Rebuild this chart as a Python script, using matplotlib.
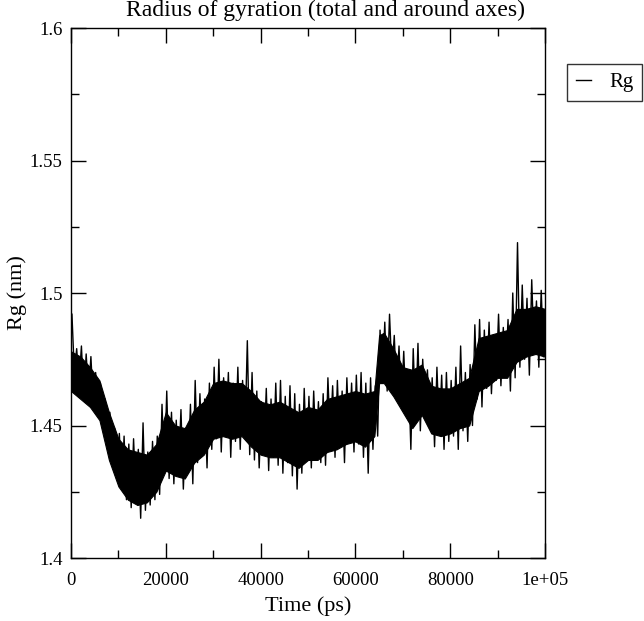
import matplotlib
matplotlib.use("Agg")
import matplotlib.pyplot as plt
from matplotlib.ticker import MultipleLocator, FixedLocator, FixedFormatter

plt.rcParams['font.family'] = ['Liberation Serif', 'DejaVu Serif']

# Extremes of Rg(t) per 1000 ps bin
time_ps = list(range(0, 100000, 1000))
rg_high = [1.492, 1.479, 1.480, 1.477, 1.476, 1.470, 1.466, 1.460, 1.455, 1.449,
           1.447, 1.446, 1.443, 1.445, 1.441, 1.451, 1.440, 1.444, 1.446, 1.458,
           1.463, 1.455, 1.452, 1.456, 1.449, 1.458, 1.467, 1.462, 1.460, 1.466,
           1.472, 1.475, 1.468, 1.470, 1.466, 1.472, 1.467, 1.482, 1.470, 1.463,
           1.459, 1.464, 1.460, 1.466, 1.467, 1.461, 1.465, 1.462, 1.458, 1.464,
           1.461, 1.463, 1.459, 1.462, 1.468, 1.465, 1.467, 1.463, 1.468, 1.466,
           1.469, 1.470, 1.466, 1.468, 1.465, 1.486, 1.489, 1.492, 1.484, 1.480,
           1.478, 1.470, 1.479, 1.481, 1.475, 1.471, 1.468, 1.472, 1.469, 1.470,
           1.467, 1.472, 1.480, 1.470, 1.473, 1.488, 1.490, 1.486, 1.489, 1.484,
           1.492, 1.487, 1.490, 1.500, 1.519, 1.503, 1.498, 1.505, 1.497, 1.501]
rg_low = [1.470, 1.466, 1.460, 1.462, 1.458, 1.455, 1.452, 1.446, 1.436, 1.430,
          1.426, 1.422, 1.419, 1.423, 1.415, 1.418, 1.420, 1.422, 1.424, 1.432,
          1.430, 1.428, 1.434, 1.426, 1.432, 1.428, 1.436, 1.440, 1.434, 1.441,
          1.445, 1.440, 1.447, 1.438, 1.444, 1.441, 1.446, 1.439, 1.437, 1.434,
          1.440, 1.433, 1.438, 1.435, 1.432, 1.436, 1.431, 1.426, 1.432, 1.437,
          1.434, 1.440, 1.436, 1.435, 1.445, 1.438, 1.442, 1.436, 1.444, 1.440,
          1.443, 1.438, 1.432, 1.441, 1.446, 1.466, 1.463, 1.470, 1.462, 1.458,
          1.455, 1.441, 1.452, 1.448, 1.456, 1.449, 1.442, 1.447, 1.441, 1.444,
          1.446, 1.441, 1.448, 1.444, 1.450, 1.460, 1.457, 1.464, 1.462, 1.467,
          1.465, 1.470, 1.463, 1.468, 1.472, 1.475, 1.469, 1.478, 1.472, 1.476]

# Dense (solid-looking) body of the trace
core_time_ps = [0, 2000, 4000, 6000, 8000, 10000, 12000, 14000, 16000, 18000,
                20000, 22000, 24000, 26000, 28000, 30000, 32000, 34000, 36000, 38000,
                40000, 42000, 44000, 46000, 48000, 50000, 52000, 54000, 56000, 58000,
                60000, 62000, 64000, 65000, 66000, 68000, 70000, 72000, 74000, 76000,
                78000, 80000, 82000, 84000, 86000, 88000, 90000, 92000, 94000, 96000,
                98000, 100000]
core_high = [1.478, 1.476, 1.472, 1.467, 1.455, 1.445, 1.441, 1.440, 1.439, 1.443,
             1.455, 1.450, 1.449, 1.456, 1.459, 1.466, 1.467, 1.466, 1.466, 1.463,
             1.459, 1.458, 1.459, 1.457, 1.455, 1.457, 1.456, 1.460, 1.461, 1.462,
             1.463, 1.462, 1.463, 1.484, 1.485, 1.479, 1.472, 1.471, 1.473, 1.465,
             1.464, 1.464, 1.466, 1.468, 1.483, 1.484, 1.485, 1.486, 1.494, 1.494,
             1.495, 1.494]
core_low = [1.463, 1.460, 1.457, 1.452, 1.437, 1.427, 1.422, 1.420, 1.421, 1.425,
            1.433, 1.431, 1.430, 1.436, 1.439, 1.445, 1.446, 1.445, 1.446, 1.442,
            1.439, 1.438, 1.438, 1.436, 1.434, 1.437, 1.437, 1.440, 1.441, 1.443,
            1.444, 1.442, 1.446, 1.466, 1.466, 1.461, 1.455, 1.449, 1.454, 1.447,
            1.446, 1.447, 1.449, 1.450, 1.463, 1.465, 1.468, 1.468, 1.474, 1.476,
            1.477, 1.476]

x_ticks = [0, 20000, 40000, 60000, 80000, 100000]
x_tick_labels = ["0", "20000", "40000", "60000", "80000", "1e+05"]
y_ticks = [1.4, 1.45, 1.5, 1.55, 1.6]
y_tick_labels = ["1.4", "1.45", "1.5", "1.55", "1.6"]

# zig-zag between high and low within each bin
xs, ys = [], []
for t, hi, lo in zip(time_ps, rg_high, rg_low):
    xs += [t + 200, t + 700]
    ys += [hi, lo]

fig = plt.figure(figsize=(6.44, 6.21), dpi=100)
ax = fig.add_axes([71/644, 1-558/621, (545-71)/644, (558-28)/621])
ax.fill_between(core_time_ps, core_low, core_high, color='black', lw=0.8,
                edgecolor='black')
line, = ax.plot(xs, ys, color='black', lw=1.0, label='Rg')

ax.set_xlim(0, 100000)
ax.set_ylim(1.4, 1.6)
ax.xaxis.set_major_locator(FixedLocator(x_ticks))
ax.xaxis.set_major_formatter(FixedFormatter(x_tick_labels))
ax.xaxis.set_minor_locator(MultipleLocator(10000))
ax.yaxis.set_major_locator(FixedLocator(y_ticks))
ax.yaxis.set_major_formatter(FixedFormatter(y_tick_labels))
ax.yaxis.set_minor_locator(MultipleLocator(0.025))
ax.tick_params(which='both', direction='in', top=True, right=True,
               width=1, colors='black', labelsize=13.5)
ax.tick_params(axis='x', which='major', pad=10)
ax.tick_params(axis='y', which='major', pad=6)
ax.tick_params(which='major', length=11)
ax.tick_params(which='minor', length=6)
for s in ax.spines.values():
    s.set_linewidth(1)

fig.text(325/644, 1-16/621, "Radius of gyration (total and around axes)",
         fontsize=17, ha='center', va='baseline')
ax.set_xlabel("Time (ps)", fontsize=16, labelpad=5)
ax.set_ylabel("Rg (nm)", fontsize=16, labelpad=2)

leg = fig.legend(handles=[line], loc='upper left',
                 bbox_to_anchor=(567/644, 1-64/621), fontsize=15,
                 frameon=True, fancybox=False, handlelength=0.75,
                 handletextpad=0.85, borderpad=0.42, borderaxespad=0)
leg.get_frame().set_edgecolor('black')
leg.get_frame().set_linewidth(1)
leg.legend_handles[0].set_linewidth(1)

fig.savefig("out.png", dpi=100)
